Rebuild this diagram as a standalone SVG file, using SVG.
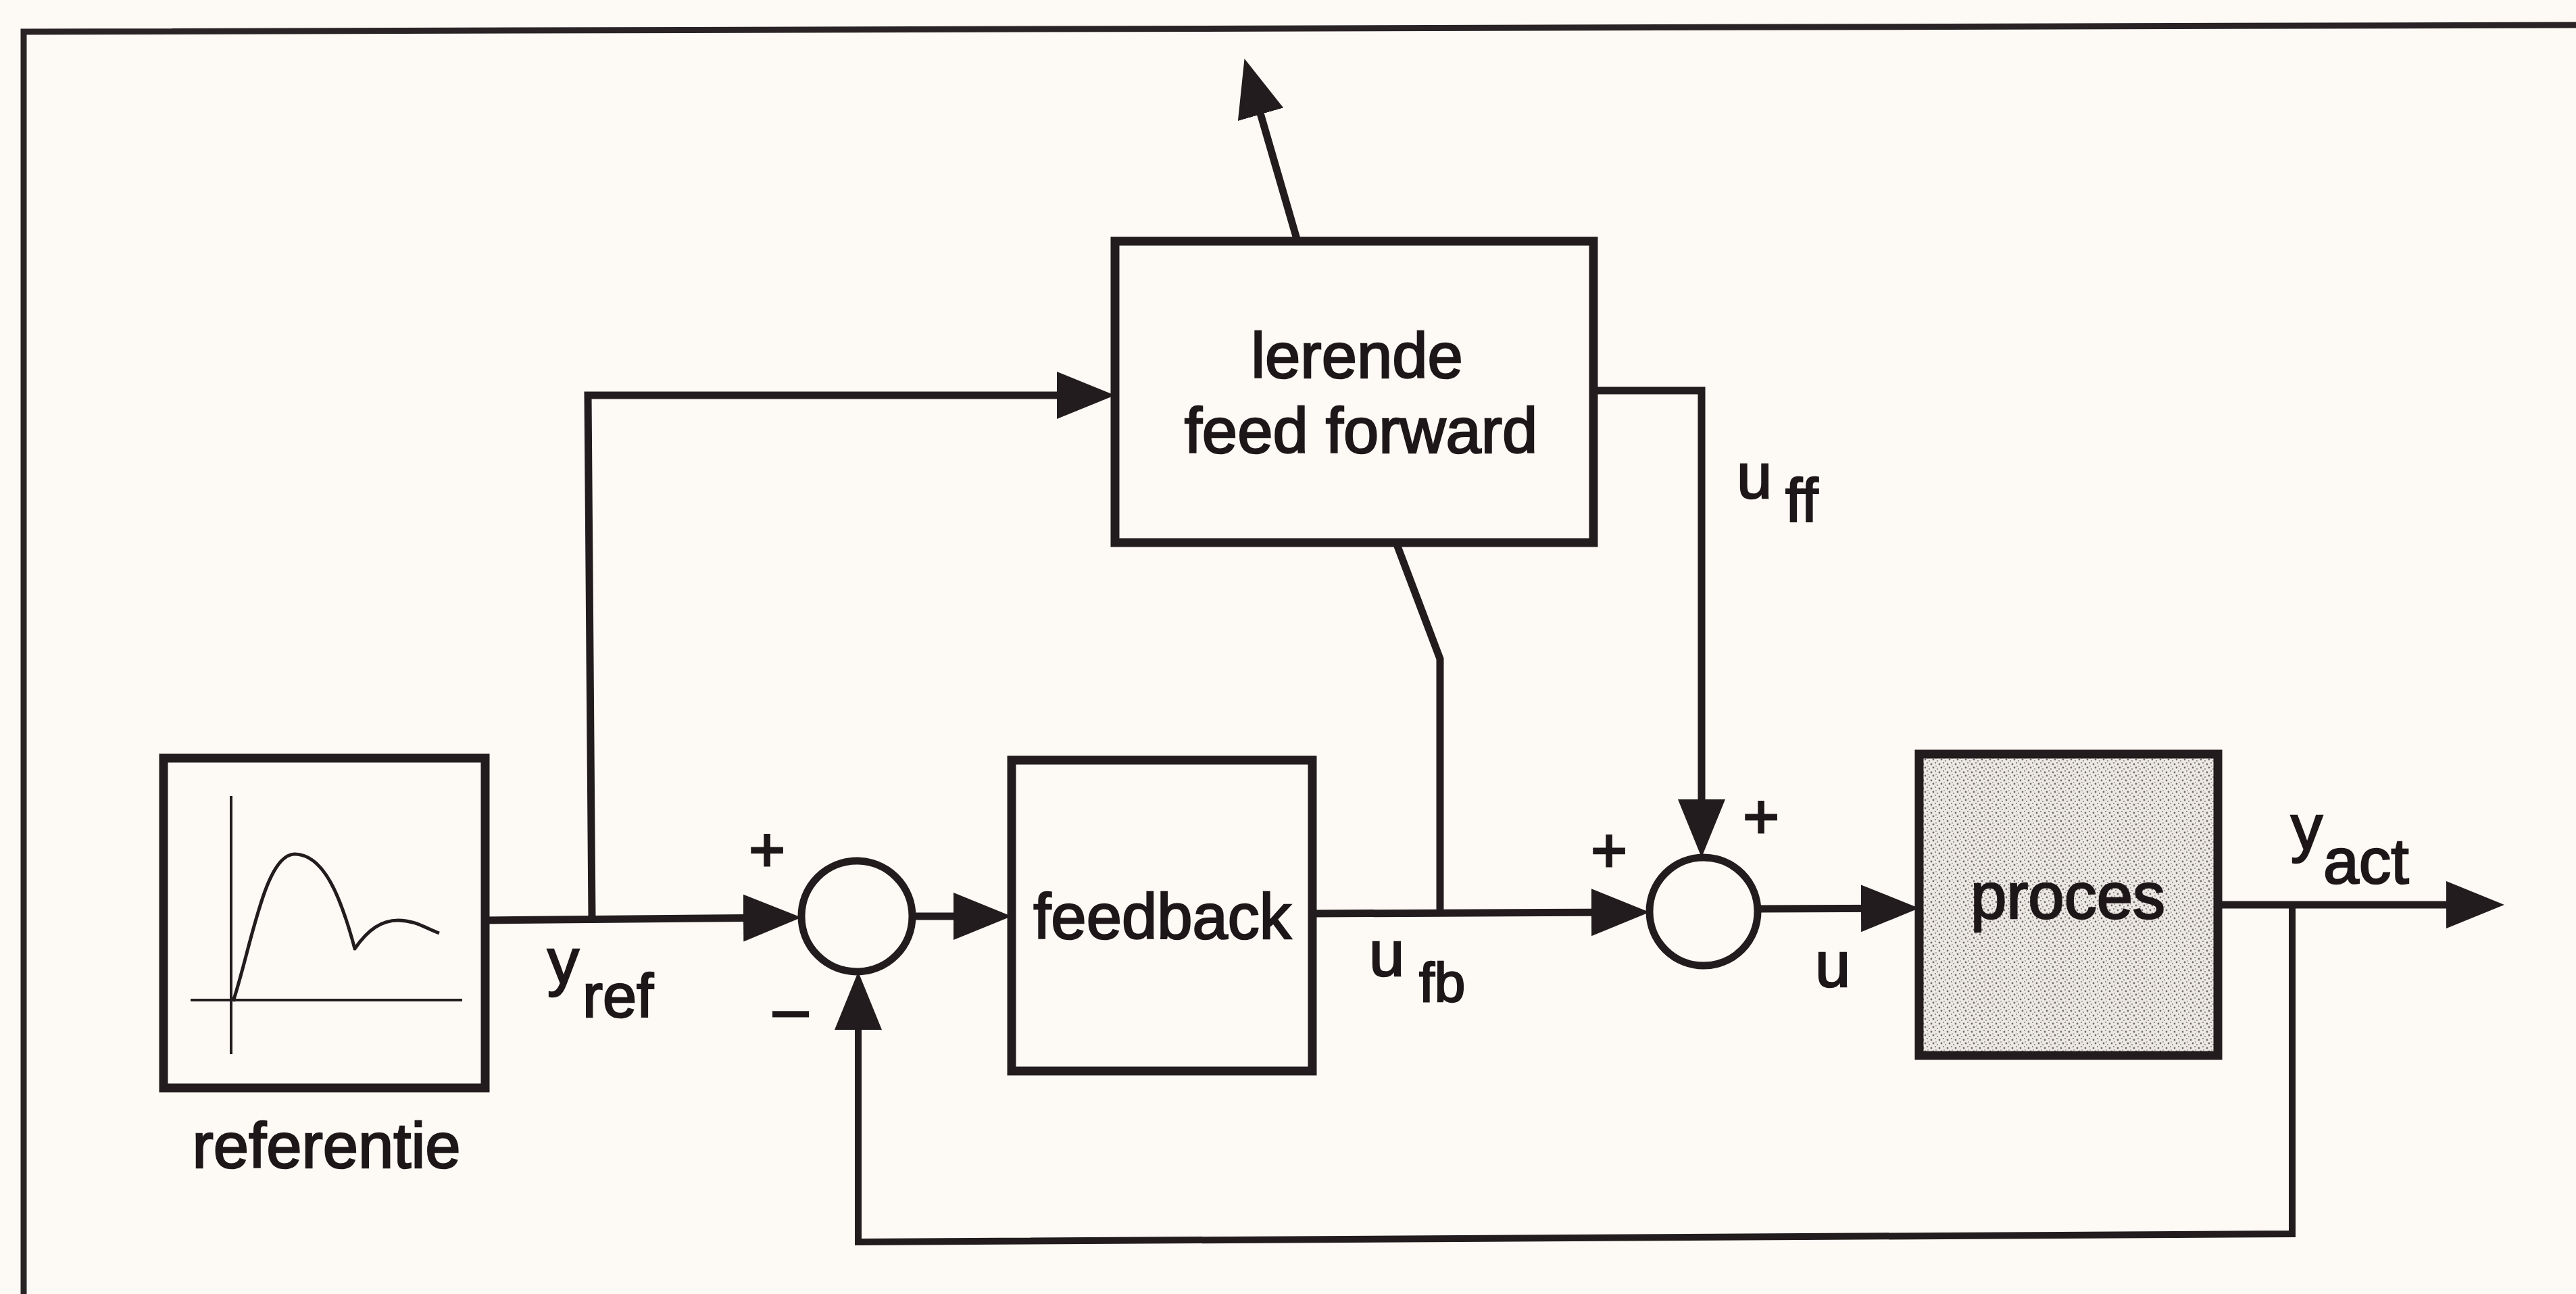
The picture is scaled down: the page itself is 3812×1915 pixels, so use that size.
<svg xmlns="http://www.w3.org/2000/svg" width="3812" height="1915" viewBox="0 0 3812 1915">
<defs>
<style>
.bg{fill:#fdfaf5}
.frame{fill:none;stroke:#2a2326;stroke-width:9}
.box{fill:#fdfaf5;stroke:#231c1e;stroke-width:13}
.sum{fill:#fdfaf5;stroke:#231c1e;stroke-width:11}
.wire{fill:none;stroke:#231c1e;stroke-width:11;stroke-linejoin:miter}
.thin{fill:none;stroke:#231c1e;stroke-width:10}
.axis{fill:none;stroke:#231c1e;stroke-width:4}
.curve{fill:none;stroke:#231c1e;stroke-width:5;stroke-linejoin:round}
.lbl{font-family:"Liberation Sans",Arial,Helvetica,sans-serif;fill:#1e1719;stroke:#1e1719;stroke-width:2.5;font-size:94px}
.sub{font-size:90px}
.sign{font-family:"Liberation Sans",Arial,Helvetica,sans-serif;fill:#1e1719;stroke:#1e1719;stroke-width:3;font-size:92px}
</style>
<marker id="ah" markerUnits="userSpaceOnUse" markerWidth="90" markerHeight="76" viewBox="0 0 90 76" refX="70" refY="38" orient="auto">
<path d="M0,3 L86,38 L0,73 Z" fill="#231c1e"/>
</marker>
<pattern id="stipple" width="12" height="12" patternUnits="userSpaceOnUse">
<rect width="12" height="12" fill="#ece8e4"/>
<circle cx="2" cy="3" r="1.4" fill="#6f6a6a"/>
<circle cx="8" cy="1" r="1.1" fill="#8a8484"/>
<circle cx="5" cy="8" r="1.4" fill="#6f6a6a"/>
<circle cx="11" cy="10" r="1.1" fill="#8a8484"/>
<circle cx="9" cy="6" r="0.9" fill="#9a9494"/>
</pattern>
</defs>
<rect class="bg" x="0" y="0" width="3812" height="1915"/>
<g id="frame">
<path class="frame" d="M 35 1915 L 35 47 L 3812 37"/>
</g>
<g id="connectors">
<path class="wire" d="M 718 1362 L 1170 1358" marker-end="url(#ah)"/>
<path class="wire" d="M 876 1361 L 870 585 L 1634 585" marker-end="url(#ah)"/>
<path class="wire" d="M 1350 1356 L 1481 1356" marker-end="url(#ah)"/>
<path class="wire" d="M 1942 1352 L 2425 1350" marker-end="url(#ah)"/>
<path class="wire" d="M 2131 1351 L 2131 975 L 2066 803"/>
<path class="wire" d="M 1920 357 L 1846 102" marker-end="url(#ah)"/>
<path class="wire" d="M 2358 578 L 2518 578 L 2518 1253" marker-end="url(#ah)"/>
<path class="wire" d="M 2601 1345 L 2824 1344" marker-end="url(#ah)"/>
<path class="wire" d="M 3282 1339 L 3690 1339" marker-end="url(#ah)"/>
<path class="thin" d="M 3392 1339 L 3392 1826 L 1270 1838 L 1270 1454" marker-end="url(#ah)"/>
</g>
<g id="referentie">
<rect class="box" x="242" y="1122" width="476" height="488"/>
<path class="axis" d="M 342 1178 L 342 1560 M 282 1480 L 684 1480"/>
<path class="curve" d="M 345 1482 C 372 1400 392 1264 436 1264 C 480 1264 505 1330 525 1404 C 545 1375 565 1362 589 1362 C 615 1362 630 1374 650 1381"/>
<text class="lbl" x="483" y="1728" text-anchor="middle">referentie</text>
</g>
<g id="yref-label">
<text class="lbl" x="810" y="1455">y</text>
<text class="lbl sub" x="862" y="1505">ref</text>
</g>
<g id="sum1">
<circle class="sum" cx="1268" cy="1356" r="82"/>
<text class="sign" x="1135" y="1289" text-anchor="middle">+</text>
<text class="sign" x="1170" y="1524" text-anchor="middle">–</text>
</g>
<g id="feedback">
<rect class="box" x="1497" y="1125" width="445" height="460"/>
<text class="lbl" x="1720" y="1389" text-anchor="middle">feedback</text>
</g>
<g id="ufb-label">
<text class="lbl" x="2026" y="1444">u</text>
<text class="lbl sub" x="2100" y="1482" style="font-size:82px">fb</text>
</g>
<g id="lerende-feed-forward">
<rect class="box" x="1650" y="357" width="708" height="446"/>
<text class="lbl" x="2008" y="559" text-anchor="middle">lerende</text>
<text class="lbl" x="2014" y="670" text-anchor="middle">feed forward</text>
</g>
<g id="uff-label">
<text class="lbl" x="2570" y="737">u</text>
<text class="lbl sub" x="2642" y="772">ff</text>
</g>
<g id="sum2">
<circle class="sum" cx="2521" cy="1349" r="80"/>
<text class="sign" x="2381" y="1290" text-anchor="middle">+</text>
<text class="sign" x="2606" y="1240" text-anchor="middle">+</text>
</g>
<g id="u-label">
<text class="lbl" x="2686" y="1460">u</text>
</g>
<g id="proces">
<rect class="box" x="2840" y="1116" width="442" height="446" style="fill:url(#stipple)"/>
<text class="lbl" x="3060" y="1359" text-anchor="middle" style="font-size:96px">proces</text>
</g>
<g id="yact-label">
<text class="lbl" x="3390" y="1257">y</text>
<text class="lbl sub" x="3438" y="1307" style="font-size:95px">act</text>
</g>
</svg>
